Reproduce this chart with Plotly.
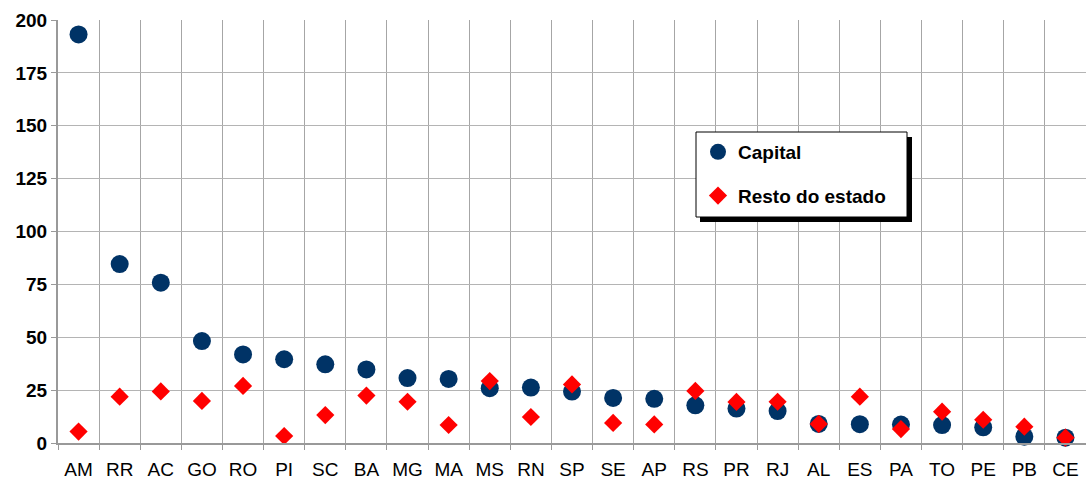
import plotly.graph_objects as go

# States ordered by capital rate
estados = ["AM", "RR", "AC", "GO", "RO", "PI", "SC", "BA", "MG", "MA", "MS", "RN", "SP",
           "SE", "AP", "RS", "PR", "RJ", "AL", "ES", "PA", "TO", "PE", "PB", "CE"]

capital = [193.2, 84.6, 75.8, 48.2, 41.9, 39.6, 37.2, 34.8, 30.7, 30.3, 25.9, 26.2, 24.3,
           21.3, 20.9, 17.8, 16.3, 15.1, 9.0, 8.9, 8.7, 8.5, 7.4, 3.0, 2.5]

resto = [5.4, 21.9, 24.4, 19.9, 27.0, 3.3, 13.2, 22.4, 19.5, 8.5, 29.3, 12.3, 27.7,
         9.5, 8.8, 24.6, 19.4, 19.5, 9.0, 21.9, 6.6, 14.8, 11.0, 7.7, 2.5]

y_ticks = [0, 25, 50, 75, 100, 125, 150, 175, 200]

FONT = "Arial, Liberation Sans, sans-serif"

# plot area geometry (pixels)
L, T, W, H = 58, 20, 1028, 423


def px_x(x):
    return (x - L) / W


def px_y(y):
    return (T + H - y) / H


fig = go.Figure()
fig.add_trace(go.Scatter(
    x=estados, y=capital, mode="markers", name="Capital", legendgroup="a",
    marker=dict(symbol="circle", size=18, color="#003366"), cliponaxis=False,
))
fig.add_trace(go.Scatter(
    x=estados, y=resto, mode="markers", name="Resto do estado", legendgroup="b",
    marker=dict(symbol="diamond", size=14, color="#FF0000"), cliponaxis=False,
))

# legend box with drop shadow
fig.add_shape(type="rect", xref="paper", yref="paper",
              x0=px_x(700), x1=px_x(912), y0=px_y(222), y1=px_y(137),
              fillcolor="#000000", line=dict(width=0), layer="above")
fig.add_shape(type="rect", xref="paper", yref="paper",
              x0=px_x(696), x1=px_x(907), y0=px_y(217), y1=px_y(132),
              fillcolor="#FFFFFF", line=dict(color="#000000", width=1), layer="above")

fig.update_layout(
    width=1086, height=482,
    margin=dict(l=L, r=1086 - L - W, t=T, b=482 - T - H),
    paper_bgcolor="white", plot_bgcolor="white",
    font=dict(family=FONT, size=19, color="#000000"),
    showlegend=True,
    legend=dict(
        x=px_x(698), y=px_y(133), xanchor="left", yanchor="top",
        bgcolor="rgba(0,0,0,0)", borderwidth=0,
        font=dict(family=FONT, size=19, color="#000000", weight="bold"),
        tracegroupgap=16, itemwidth=30,
    ),
    xaxis=dict(
        type="category", range=[-0.5, 24.5], tickson="boundaries",
        showgrid=True, gridcolor="#A6A6A6", gridwidth=1,
        showline=True, linecolor="#999999", linewidth=2,
        ticks="outside", ticklen=5, tickcolor="#999999",
        ticklabelstandoff=8,
        tickfont=dict(family=FONT, size=19, color="#000000"),
        fixedrange=True,
    ),
    yaxis=dict(
        range=[0, 200], tickvals=y_ticks, ticktext=[str(v) for v in y_ticks],
        showgrid=True, gridcolor="#B4B4B4", gridwidth=1, zeroline=False,
        showline=True, linecolor="#999999", linewidth=2,
        ticks="outside", ticklen=5, tickcolor="#999999",
        tickfont=dict(family=FONT, size=19, color="#000000", weight="bold"),
        fixedrange=True,
    ),
)

fig.write_html("out.html")
